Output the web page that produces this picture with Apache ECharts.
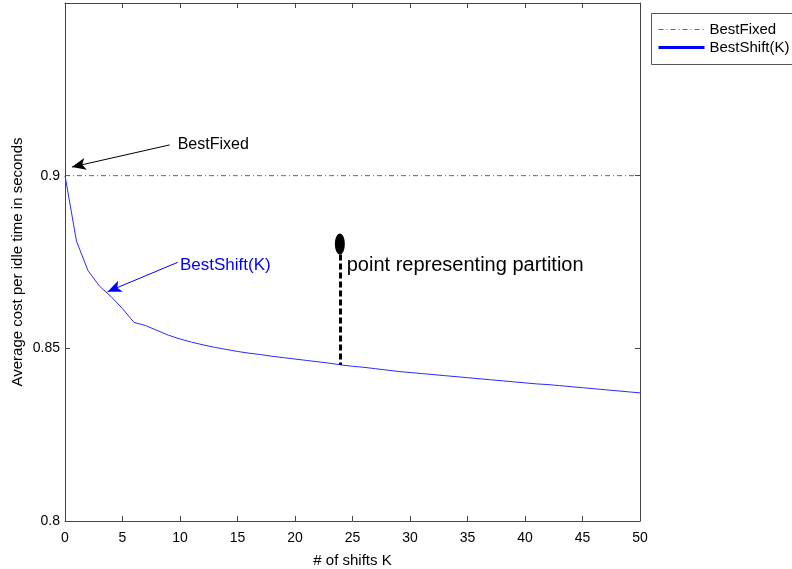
<!DOCTYPE html>
<html>
<head>
<meta charset="utf-8">
<script src="https://cdn.jsdelivr.net/npm/echarts@6/dist/echarts.min.js"></script>
<style>
  html, body { margin: 0; padding: 0; background: #fff; }
  #chart { width: 792px; height: 569px; }
</style>
</head>
<body>
<div id="chart"></div>
<script>
// number of shifts K
const shifts = [0, 1, 2, 3, 4, 5, 6, 7, 8, 9, 10, 11, 12, 13, 14, 15, 16, 17, 18, 19, 20,
  21, 22, 23, 24, 25, 26, 27, 28, 29, 30, 31, 32, 33, 34, 35, 36, 37, 38, 39, 40,
  41, 42, 43, 44, 45, 46, 47, 48, 49, 50];
// BestShift(K)
const bestShift = [0.9000, 0.8810, 0.8725, 0.8680, 0.8650, 0.8615, 0.8575, 0.8566, 0.8552, 0.8538, 0.8527,
  0.8518, 0.8510, 0.8503, 0.8497, 0.8491, 0.8486, 0.8482, 0.8477, 0.8473, 0.8469,
  0.8465, 0.8461, 0.8457, 0.8452, 0.8448, 0.8445, 0.8441, 0.8437, 0.8433, 0.8430,
  0.8427, 0.8424, 0.8421, 0.8418, 0.8415, 0.8412, 0.8409, 0.8406, 0.8403, 0.8400,
  0.8397, 0.8395, 0.8392, 0.8389, 0.8386, 0.8383, 0.8380, 0.8377, 0.8374, 0.8371];
const bestFixed = 0.9;
const xTicks = [0, 50, 5];          // min, max, interval
const yTicks = [0.8, 0.95, 0.05];

// annotations (in data units)
const partitionK = 23.9;
const partitionTop = 0.8772;
const partitionDot = 0.8802;
const fixedArrow = [[9.1, 0.9089], [0.6, 0.9025]];
const shiftArrow = [[9.8, 0.8749], [3.7, 0.8664]];

const axisColor = '#444';
const font = 'Liberation Sans, Arial, sans-serif';

const chart = echarts.init(document.getElementById('chart'));

const boxAxis = (pos) => ({
  type: 'value',
  position: pos,
  axisLine: { show: true, onZero: false, lineStyle: { color: axisColor } },
  axisTick: { show: true, inside: true, length: 5, lineStyle: { color: axisColor } },
  axisLabel: { show: false },
  splitLine: { show: false }
});

chart.setOption({
  animation: false,
  textStyle: { fontFamily: font },
  grid: { left: 65, right: 152, top: 3, bottom: 48, outerBoundsMode: 'none' },
  // legend frame runs off the right edge, like the original
  graphic: [{
    type: 'rect',
    left: 649, top: 11,
    shape: { width: 200, height: 51 },
    style: { fill: 'none', stroke: '#555', lineWidth: 1 },
    silent: true
  }],
  legend: {
    left: 657,
    top: 22,
    orient: 'vertical',
    padding: 0,
    itemWidth: 46,
    itemHeight: 14,
    itemGap: 3,
    textStyle: { fontSize: 15, color: '#000', fontFamily: font },
    data: [
      { name: 'BestFixed', itemStyle: { opacity: 0 }, lineStyle: { color: '#666', width: 1, type: [5, 3, 1, 3] } },
      { name: 'BestShift(K)', itemStyle: { opacity: 0 }, lineStyle: { color: '#0000ff', width: 3 } }
    ]
  },
  xAxis: [
    Object.assign(boxAxis('bottom'), {
      min: xTicks[0], max: xTicks[1], interval: xTicks[2],
      name: '# of shifts K',
      nameLocation: 'middle',
      nameGap: 32,
      nameTextStyle: { fontSize: 15, color: '#000', fontFamily: font },
      axisLabel: { show: true, fontSize: 14, color: '#000', margin: 10 }
    }),
    Object.assign(boxAxis('top'), { min: xTicks[0], max: xTicks[1], interval: xTicks[2] })
  ],
  yAxis: [
    Object.assign(boxAxis('left'), {
      min: yTicks[0], max: yTicks[1], interval: yTicks[2],
      name: 'Average cost per idle time in seconds',
      nameLocation: 'middle',
      nameGap: 40,
      nameMoveOverlap: false,
      nameTextStyle: { fontSize: 15, color: '#000', fontFamily: font },
      axisLabel: {
        show: true, fontSize: 14, color: '#000', margin: 5,
        formatter: v => (v > 0.94 ? '' : String(+v.toFixed(2)))
      }
    }),
    Object.assign(boxAxis('right'), { min: yTicks[0], max: yTicks[1], interval: yTicks[2] })
  ],
  series: [
    {
      name: 'BestFixed',
      type: 'line',
      symbol: 'none',
      lineStyle: { color: '#666', width: 1, type: [5, 3, 1, 3] },
      data: shifts.map(k => [k, bestFixed])
    },
    {
      name: 'BestShift(K)',
      type: 'line',
      symbol: 'none',
      lineStyle: { color: '#2a2aff', width: 1 },
      data: shifts.map((k, i) => [k, bestShift[i]])
    },
    {
      // annotations
      name: 'notes',
      type: 'scatter',
      silent: true,
      symbolSize: 0,
      itemStyle: { color: '#000', opacity: 1 },
      data: [
        { value: [9.8, 0.9089], label: { show: true, position: 'right', distance: 0, formatter: 'BestFixed', fontSize: 16, color: '#000' } },
        { value: [10.0, 0.8740], label: { show: true, position: 'right', distance: 0, formatter: 'BestShift(K)', fontSize: 17, color: '#0000ff' } },
        { value: [24.5, 0.8740], label: { show: true, position: 'right', distance: 0, formatter: 'point representing partition', fontSize: 20, color: '#000' } },
        { value: [partitionK, partitionDot], symbol: 'circle', symbolSize: [10, 21], itemStyle: { color: '#000', opacity: 1 } }
      ],
      markLine: {
        silent: true,
        symbol: ['none', 'arrow'],
        symbolSize: [9, 14],
        label: { show: false },
        data: [
          [{ coord: fixedArrow[0], lineStyle: { color: '#000', width: 1, type: 'solid' } }, { coord: fixedArrow[1] }],
          [{ coord: shiftArrow[0], lineStyle: { color: '#0000ff', width: 1, type: 'solid' } }, { coord: shiftArrow[1] }],
          [{ coord: [partitionK, partitionTop], symbol: 'none', lineStyle: { color: '#000', width: 3, type: [6, 3] } },
           { coord: [partitionK, bestShift[24]], symbol: 'none' }]
        ]
      }
    }
  ]
});
</script>
</body>
</html>
